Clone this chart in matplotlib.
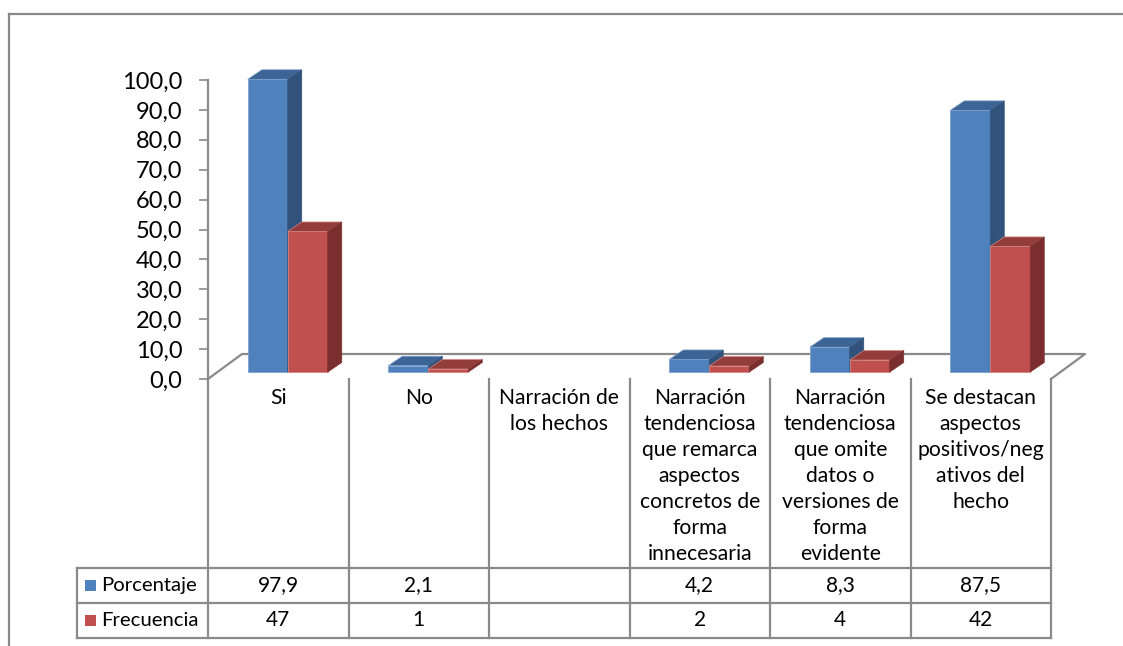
"""Gráfico de columnas 3D con tabla de datos (estilo Excel)."""
import numpy as np
import matplotlib
matplotlib.use("Agg")
import matplotlib.pyplot as plt
from matplotlib.patches import Polygon, Rectangle
from matplotlib.lines import Line2D

plt.rcParams["font.family"] = ["Lato", "DejaVu Sans"]

categorias = ["Si", "No", "Narración de\nlos hechos",
              "Narración\ntendenciosa\nque remarca\naspectos\nconcretos de\nforma\ninnecesaria",
              "Narración\ntendenciosa\nque omite\ndatos o\nversiones de\nforma\nevidente",
              "Se destacan\naspectos\npositivos/neg\nativos del\nhecho"]
series = ["Porcentaje", "Frecuencia"]
porcentaje = [97.9, 2.1, None, 4.2, 8.3, 87.5]
frecuencia = [47, 1, None, 2, 4, 42]
yticks = list(range(0, 101, 10))

W, H = 1123, 646
GRAY = "#8a8a8a"
front = ["#4F81BD", "#C0504D"]
top = ["#3C6494", "#923D3B"]
side = ["#30527B", "#7A2E2D"]
edge = ["#7FA3D0", "#D68583"]


def fx(px):
    return px / W


def fy(py):
    return 1 - py / H


fig = plt.figure(figsize=(W / 100, H / 100), dpi=100)

# marco exterior
fig.add_artist(Line2D([fx(9), 1], [fy(14), fy(14)], color=GRAY, lw=1.6))
fig.add_artist(Line2D([fx(9), fx(9)], [fy(14), 0], color=GRAY, lw=1.6))

ax = fig.add_axes([fx(208), fy(379), fx(1051) - fx(208), fy(80) - fy(379)])
n = len(categorias)
ax.set_xlim(-0.5, n - 0.5)
ax.set_ylim(0, 100)
PXX = n / (1051 - 208)
PXY = 100 / (379 - 80)

for s in ["top", "right", "bottom"]:
    ax.spines[s].set_visible(False)
ax.spines["left"].set_color(GRAY)
ax.spines["left"].set_linewidth(1.6)
ax.set_xticks([])
ax.set_yticks(yticks)
ax.set_yticklabels([f"{v:.1f}".replace(".", ",") for v in yticks], fontsize=17)
ax.tick_params(axis="y", direction="out", length=6.5, width=1.2, color=GRAY, pad=12)
ax.patch.set_alpha(0)

# suelo 3D
fdx, fdy = 34 * PXX, 25 * PXY
x0, x1 = -0.5, n - 0.5
ax.plot([x0, x0 + fdx, x1 + fdx, x1], [0, fdy, fdy, 0], color=GRAY, lw=1.6,
        clip_on=False, zorder=1)

# barras 3D
bw = 40 * PXX
ddx, ddy = 14 * PXX, 9.5 * PXY
base = 7 * PXY
shift = 9.5 * PXX
for j, vals in enumerate([porcentaje, frecuencia]):
    for i, v in enumerate(vals):
        if v is None:
            continue
        xl = i + shift - bw + j * bw
        yt = base + v
        ax.add_patch(Rectangle((xl, base), bw, v, facecolor=front[j],
                               edgecolor=edge[j], lw=0.6, zorder=3, clip_on=False))
        ax.add_patch(Polygon([(xl, yt), (xl + bw, yt), (xl + bw + ddx, yt + ddy),
                              (xl + ddx, yt + ddy)], closed=True, facecolor=top[j],
                             edgecolor=edge[j], lw=0.5, zorder=3, clip_on=False))
        ax.add_patch(Polygon([(xl + bw, base), (xl + bw + ddx, base + ddy),
                              (xl + bw + ddx, yt + ddy), (xl + bw, yt)], closed=True,
                             facecolor=side[j], edgecolor=side[j], lw=0.5, zorder=3,
                             clip_on=False))

# tabla de datos
head, row = 189, 35
tot = head + 2 * row
at = fig.add_axes([fx(208), fy(638), fx(1051) - fx(208), fy(379) - fy(638)])
at.set_xlim(-0.5, n - 0.5)
at.set_ylim(0, tot)
at.axis("off")
xleft = -0.5 - (208 - 77) * PXX
for k in range(n + 1):
    at.plot([k - 0.5, k - 0.5], [0, tot], color=GRAY, lw=1.6, clip_on=False)
at.plot([xleft, xleft], [0, 2 * row], color=GRAY, lw=1.6, clip_on=False)
for yy in [0, row, 2 * row]:
    at.plot([xleft, n - 0.5], [yy, yy], color=GRAY, lw=1.6, clip_on=False)

for i, c in enumerate(categorias):
    at.text(i, tot - 9, c, ha="center", va="top", fontsize=15.2, linespacing=1.37,
            clip_on=False)

for r, (name, vals) in enumerate(zip(series, [porcentaje, frecuencia])):
    yc = row * (1.5 - r)
    at.add_patch(Rectangle((xleft + 8 * PXX, yc - 5.5), 11 * PXX, 11,
                           facecolor=front[r], edgecolor="none", clip_on=False))
    at.text(xleft + 24 * PXX, yc, name, ha="left", va="center", fontsize=14.6,
            clip_on=False)
    for i, v in enumerate(vals):
        if v is None:
            continue
        txt = f"{v:.1f}".replace(".", ",") if r == 0 else f"{v:d}"
        at.text(i, yc, txt, ha="center", va="center", fontsize=15, clip_on=False)

fig.savefig("out.png", dpi=100)
